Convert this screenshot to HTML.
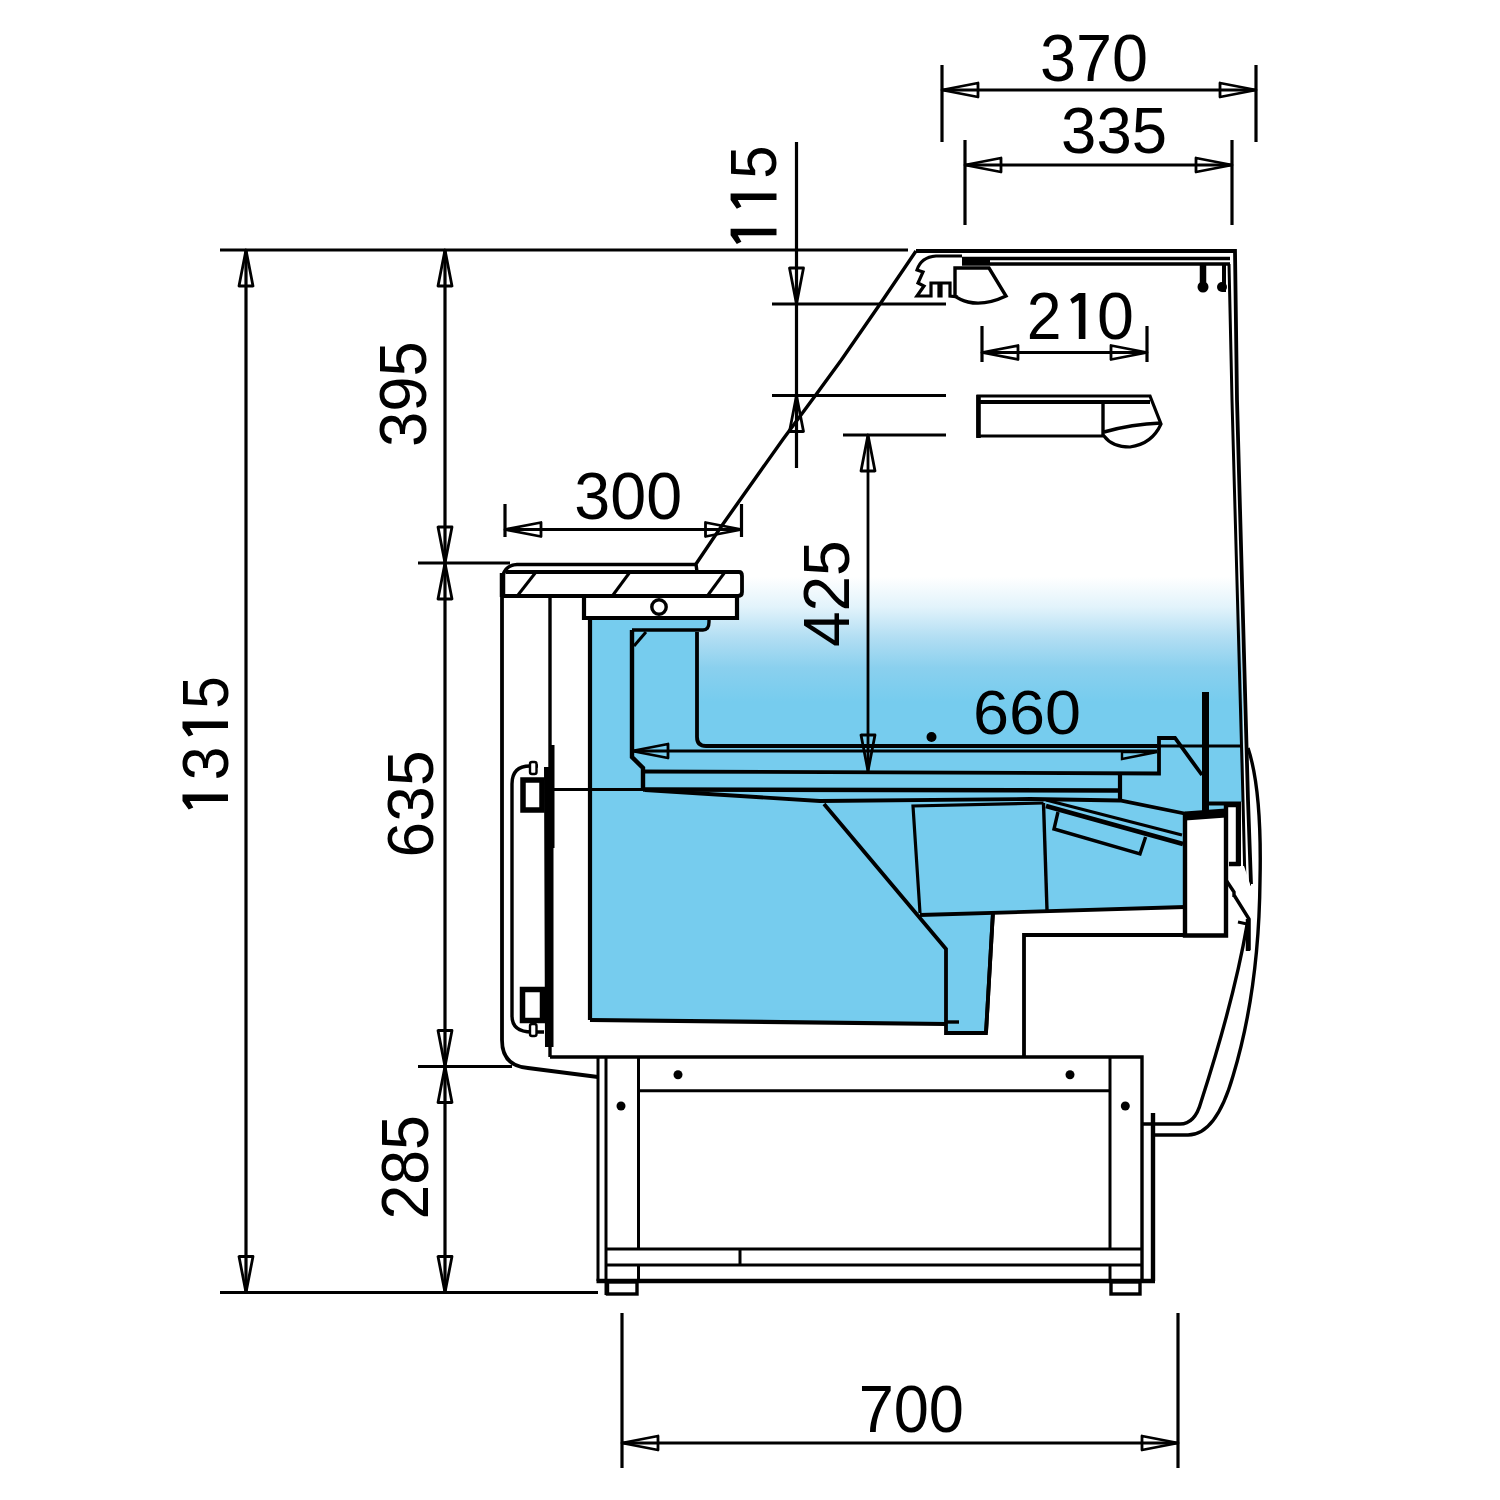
<!DOCTYPE html>
<html><head><meta charset="utf-8"><style>
html,body{margin:0;padding:0;background:#fff;width:1500px;height:1500px;overflow:hidden}
svg{display:block}
.t{font-family:"Liberation Sans",sans-serif;font-size:66px;fill:#000}
</style></head><body>
<svg width="1500" height="1500" viewBox="0 0 1500 1500">
<rect width="1500" height="1500" fill="#fff"/>
<defs><linearGradient id="g" x1="0" y1="512" x2="0" y2="702" gradientUnits="userSpaceOnUse">
<stop offset="0" stop-color="#ffffff"/>
<stop offset="0.34" stop-color="#ffffff"/>
<stop offset="0.50" stop-color="#e2f3fb"/>
<stop offset="0.66" stop-color="#b2def3"/>
<stop offset="0.82" stop-color="#8ad0ee"/>
<stop offset="1" stop-color="#76ccee"/></linearGradient></defs>
<path d="M697,520 L1238,520 L1243,710 L697,710 Z" fill="url(#g)"/>
<path d="M697,709 L1243,709 L1244,802 L697,802 Z" fill="#76ccee"/>
<path d="M590,619 L709,619 L709,630 L697,630 L697,746 L1240,746 L1241,802 L1226,802 L1226,812 L1185,815 L1185,907 L993,912 L986,1033 L946,1033 L946,1024 L590,1020 Z" fill="#76ccee"/>
<line x1="942" y1="65" x2="942" y2="142" stroke="#000" stroke-width="3.2" />
<line x1="1256" y1="65" x2="1256" y2="142" stroke="#000" stroke-width="3.2" />
<line x1="942" y1="90" x2="1256" y2="90" stroke="#000" stroke-width="3.2" />
<path d="M942.0,90.0 L978.0,83.0 L978.0,97.0 Z" fill="none" stroke="#000" stroke-width="2.8" stroke-linejoin="round"/>
<path d="M1256.0,90.0 L1220.0,97.0 L1220.0,83.0 Z" fill="none" stroke="#000" stroke-width="2.8" stroke-linejoin="round"/>
<line x1="965" y1="140" x2="965" y2="225" stroke="#000" stroke-width="3.2" />
<line x1="1232" y1="140" x2="1232" y2="225" stroke="#000" stroke-width="3.2" />
<line x1="965" y1="165" x2="1232" y2="165" stroke="#000" stroke-width="3.2" />
<path d="M965.0,165.0 L1001.0,158.0 L1001.0,172.0 Z" fill="none" stroke="#000" stroke-width="2.8" stroke-linejoin="round"/>
<path d="M1232.0,165.0 L1196.0,172.0 L1196.0,158.0 Z" fill="none" stroke="#000" stroke-width="2.8" stroke-linejoin="round"/>
<line x1="796.5" y1="142" x2="796.5" y2="468" stroke="#000" stroke-width="3.2" />
<line x1="772" y1="304" x2="946" y2="304" stroke="#000" stroke-width="3.2" />
<line x1="772" y1="395.5" x2="946" y2="395.5" stroke="#000" stroke-width="3.2" />
<path d="M796.5,304.0 L789.5,268.0 L803.5,268.0 Z" fill="none" stroke="#000" stroke-width="2.8" stroke-linejoin="round"/>
<path d="M796.5,395.5 L803.5,431.5 L789.5,431.5 Z" fill="none" stroke="#000" stroke-width="2.8" stroke-linejoin="round"/>
<line x1="868" y1="435" x2="868" y2="771" stroke="#000" stroke-width="2.8" />
<line x1="843" y1="435" x2="946" y2="435" stroke="#000" stroke-width="3.2" />
<path d="M868.0,435.0 L875.0,471.0 L861.0,471.0 Z" fill="none" stroke="#000" stroke-width="2.8" stroke-linejoin="round"/>
<path d="M868.0,771.0 L861.0,735.0 L875.0,735.0 Z" fill="none" stroke="#000" stroke-width="2.8" stroke-linejoin="round"/>
<line x1="445" y1="250" x2="445" y2="1292" stroke="#000" stroke-width="3.2" />
<line x1="220" y1="250" x2="908" y2="250" stroke="#000" stroke-width="3.2" />
<line x1="418" y1="563" x2="510" y2="563" stroke="#000" stroke-width="3.2" />
<line x1="418" y1="1066.5" x2="512" y2="1066.5" stroke="#000" stroke-width="3.2" />
<line x1="220" y1="1292.5" x2="598" y2="1292.5" stroke="#000" stroke-width="3.2" />
<path d="M445.0,250.0 L452.0,286.0 L438.0,286.0 Z" fill="none" stroke="#000" stroke-width="2.8" stroke-linejoin="round"/>
<path d="M445.0,563.0 L438.0,527.0 L452.0,527.0 Z" fill="none" stroke="#000" stroke-width="2.8" stroke-linejoin="round"/>
<path d="M445.0,563.0 L452.0,599.0 L438.0,599.0 Z" fill="none" stroke="#000" stroke-width="2.8" stroke-linejoin="round"/>
<path d="M445.0,1066.5 L438.0,1030.5 L452.0,1030.5 Z" fill="none" stroke="#000" stroke-width="2.8" stroke-linejoin="round"/>
<path d="M445.0,1066.5 L452.0,1102.5 L438.0,1102.5 Z" fill="none" stroke="#000" stroke-width="2.8" stroke-linejoin="round"/>
<path d="M445.0,1292.5 L438.0,1256.5 L452.0,1256.5 Z" fill="none" stroke="#000" stroke-width="2.8" stroke-linejoin="round"/>
<line x1="246" y1="250" x2="246" y2="1292" stroke="#000" stroke-width="3.2" />
<path d="M246.0,250.0 L253.0,286.0 L239.0,286.0 Z" fill="none" stroke="#000" stroke-width="2.8" stroke-linejoin="round"/>
<path d="M246.0,1292.5 L239.0,1256.5 L253.0,1256.5 Z" fill="none" stroke="#000" stroke-width="2.8" stroke-linejoin="round"/>
<line x1="505" y1="529.5" x2="741.5" y2="529.5" stroke="#000" stroke-width="3.2" />
<line x1="505" y1="504" x2="505" y2="537" stroke="#000" stroke-width="3.2" />
<line x1="741.5" y1="504" x2="741.5" y2="537" stroke="#000" stroke-width="3.2" />
<path d="M505.0,529.5 L541.0,522.5 L541.0,536.5 Z" fill="none" stroke="#000" stroke-width="2.8" stroke-linejoin="round"/>
<path d="M741.5,529.5 L705.5,536.5 L705.5,522.5 Z" fill="none" stroke="#000" stroke-width="2.8" stroke-linejoin="round"/>
<line x1="982" y1="352.5" x2="1147" y2="352.5" stroke="#000" stroke-width="3.2" />
<line x1="982" y1="326" x2="982" y2="362" stroke="#000" stroke-width="3.2" />
<line x1="1147" y1="326" x2="1147" y2="362" stroke="#000" stroke-width="3.2" />
<path d="M982.0,352.5 L1018.0,345.5 L1018.0,359.5 Z" fill="none" stroke="#000" stroke-width="2.8" stroke-linejoin="round"/>
<path d="M1147.0,352.5 L1111.0,359.5 L1111.0,345.5 Z" fill="none" stroke="#000" stroke-width="2.8" stroke-linejoin="round"/>
<line x1="622" y1="1443" x2="1178" y2="1443" stroke="#000" stroke-width="3.2" />
<line x1="622" y1="1313" x2="622" y2="1468" stroke="#000" stroke-width="3.2" />
<line x1="1178" y1="1313" x2="1178" y2="1468" stroke="#000" stroke-width="3.2" />
<path d="M622.0,1443.0 L658.0,1436.0 L658.0,1450.0 Z" fill="none" stroke="#000" stroke-width="2.8" stroke-linejoin="round"/>
<path d="M1178.0,1443.0 L1142.0,1450.0 L1142.0,1436.0 Z" fill="none" stroke="#000" stroke-width="2.8" stroke-linejoin="round"/>
<line x1="632" y1="751" x2="1157" y2="751" stroke="#000" stroke-width="2.8" />
<path d="M632.0,751.0 L668.0,744.0 L668.0,758.0 Z" fill="none" stroke="#000" stroke-width="2.8" stroke-linejoin="round"/>
<circle cx="931.5" cy="737" r="5" fill="#000"/>
<path d="M916,251 L880.4,303.5 L841.3,360 L815.2,395.7 L783.2,438.9 L723,524 L696,564 L697,572" fill="none" stroke="#000" stroke-width="3.4" stroke-linejoin="miter" />
<path d="M916,251 L1235,251 L1237,400 L1248,800 L1251,884" fill="none" stroke="#000" stroke-width="3.8" stroke-linejoin="miter" />
<line x1="962" y1="258.5" x2="1230" y2="258.5" stroke="#000" stroke-width="3.4" />
<line x1="962" y1="264" x2="1230" y2="264" stroke="#000" stroke-width="3.4" />
<path d="M1229,264 L1232,400 L1243,800 L1245,884" fill="none" stroke="#000" stroke-width="3.0" stroke-linejoin="miter" />
<path d="M1245,884 L1251,884" fill="none" stroke="#000" stroke-width="3" stroke-linejoin="miter" />
<line x1="1203" y1="264" x2="1203" y2="286" stroke="#000" stroke-width="6.5" />
<circle cx="1203" cy="287" r="5.5" fill="#000"/>
<circle cx="1222" cy="287" r="5" fill="#000"/>
<line x1="1224" y1="264" x2="1224" y2="292" stroke="#000" stroke-width="4" />
<path d="M962,256 L936,256 Q921,257 917,270 L923,272 L918,283 L924,286 L917,296 L931,296 L931,283 L939,283 L939,296 L941,296 L941,283 L950,283 L950,296 L958,297" fill="none" stroke="#000" stroke-width="3.2" stroke-linejoin="miter" />
<path d="M955,268 L989,268 L1006,296 Q985,306 968,302 Q960,300 955,296 Z" fill="none" stroke="#000" stroke-width="3.4" stroke-linejoin="miter" />
<path d="M962,262 L990,262" fill="none" stroke="#000" stroke-width="5" stroke-linejoin="miter" />
<path d="M978,396 L1150,396 L1161,424 Q1152,444 1130,447 Q1112,447 1104,436 L978,436 Z" fill="none" stroke="#000" stroke-width="3.2" stroke-linejoin="miter" />
<line x1="978.5" y1="395" x2="978.5" y2="438" stroke="#000" stroke-width="4.6" />
<line x1="978" y1="402" x2="1150" y2="402" stroke="#000" stroke-width="4.2" />
<line x1="1103" y1="402" x2="1103" y2="436" stroke="#000" stroke-width="3.4" />
<path d="M1104,432 Q1132,424 1161,423" fill="none" stroke="#000" stroke-width="3.4" stroke-linejoin="miter" />
<path d="M502,596 L502,578 Q502,572 510,572 L742,572 L742,596 Z" fill="#fff"/>
<rect x="583" y="596" width="154" height="22" fill="#fff"/>
<path d="M695,564.5 L517,564.5 Q506,565 503,575" fill="none" stroke="#000" stroke-width="3.6" stroke-linejoin="miter" />
<path d="M502.5,573 L502.5,597" fill="none" stroke="#000" stroke-width="5.5" stroke-linejoin="miter" />
<path d="M506,572 L739,572 Q742,572 742,576 L742,592 Q742,596 738,596 L502,596" fill="none" stroke="#000" stroke-width="3.8" stroke-linejoin="miter" />
<line x1="518" y1="595" x2="536" y2="572" stroke="#000" stroke-width="3.0" />
<line x1="613" y1="595" x2="630" y2="572" stroke="#000" stroke-width="3.0" />
<line x1="708" y1="595" x2="725" y2="572" stroke="#000" stroke-width="3.0" />
<path d="M584,597 L584,618 L737,618 L737,597" fill="none" stroke="#000" stroke-width="4.2" stroke-linejoin="miter" />
<circle cx="659" cy="607" r="7.2" fill="#fff" stroke="#000" stroke-width="3.4"/>
<path d="M590,619 L590,1020" fill="none" stroke="#000" stroke-width="4.2" stroke-linejoin="miter" />
<path d="M632,630 L703,630 Q709,630 709,622 L709,619" fill="none" stroke="#000" stroke-width="3.4" stroke-linejoin="miter" />
<path d="M632,630 L632,757 L643,768 L643,790" fill="none" stroke="#000" stroke-width="4.4" stroke-linejoin="miter" />
<path d="M697,632 L697,737 Q697,746 706,746 L1157,746" fill="none" stroke="#000" stroke-width="3.8" stroke-linejoin="miter" />
<path d="M634,646 L646,632" fill="none" stroke="#000" stroke-width="3" stroke-linejoin="miter" />
<path d="M502,582 L502,1040 Q502,1066 528,1068 L598,1077" fill="none" stroke="#000" stroke-width="3.8" stroke-linejoin="miter" />
<line x1="550" y1="598" x2="550" y2="1057" stroke="#000" stroke-width="3.4" />
<path d="M549,745 L554.5,745 L554.5,848 L553.5,848 L553.5,1047 L545,1047 L544,767 L549,767 Z" fill="#000"/>
<path d="M538,766 L530,766 Q512,766 512,784 L512,1016 Q512,1032 532,1032 L544,1032" fill="none" stroke="#000" stroke-width="3.4" stroke-linejoin="miter" />
<rect x="523" y="780" width="19" height="30" fill="#fff" stroke="#000" stroke-width="5.5"/>
<rect x="522.5" y="989.5" width="20" height="31" fill="#fff" stroke="#000" stroke-width="5.5"/>
<rect x="530" y="762" width="6.5" height="12" rx="2" fill="#fff" stroke="#000" stroke-width="2.4"/>
<rect x="530" y="1024" width="6.5" height="12" rx="2" fill="#fff" stroke="#000" stroke-width="2.4"/>
<line x1="553" y1="789.5" x2="643" y2="789.5" stroke="#000" stroke-width="3.0" />
<path d="M643,771.5 L1159,773.5 L1159,738 L1175,738 L1202,775" fill="none" stroke="#000" stroke-width="3.8" stroke-linejoin="miter" />
<path d="M643,789.5 L1120,790.5" fill="none" stroke="#000" stroke-width="4.4" stroke-linejoin="miter" />
<line x1="1120" y1="773" x2="1120" y2="801" stroke="#000" stroke-width="4.2" />
<path d="M645,790 L820,801 L1030,799 L1120,800.5 L1187,814" fill="none" stroke="#000" stroke-width="3.8" stroke-linejoin="miter" />
<path d="M1046,800 L1182,835" fill="none" stroke="#000" stroke-width="3.2" stroke-linejoin="miter" />
<path d="M1046,806 L1183,844" fill="none" stroke="#000" stroke-width="4.8" stroke-linejoin="miter" />
<path d="M1058,812 L1054,829 L1140,854 L1145.6,837" fill="none" stroke="#000" stroke-width="3.4" stroke-linejoin="miter" />
<line x1="1157" y1="746" x2="1241" y2="746" stroke="#000" stroke-width="3.0" />
<path d="M1122,752 L1157,752 L1122,759 Z" fill="none" stroke="#000" stroke-width="2.4" stroke-linejoin="miter" />
<line x1="1205.5" y1="692" x2="1205.5" y2="812" stroke="#000" stroke-width="7" />
<path d="M824,804 L946,949 L946,1033 L986,1033 L993,912" fill="none" stroke="#000" stroke-width="3.8" stroke-linejoin="miter" />
<path d="M920,913 L913,806 L1043.5,803" fill="none" stroke="#000" stroke-width="3.2" stroke-linejoin="miter" />
<path d="M1043.5,803 L1047,910" fill="none" stroke="#000" stroke-width="3.4" stroke-linejoin="miter" />
<path d="M920,915 L1185,907" fill="none" stroke="#000" stroke-width="3.8" stroke-linejoin="miter" />
<path d="M590,1020 L946,1024" fill="none" stroke="#000" stroke-width="4.2" stroke-linejoin="miter" />
<line x1="946" y1="1022" x2="959" y2="1022" stroke="#000" stroke-width="3.4" />
<path d="M1185,815 L1225,812 L1225,935 L1185,935 Z" fill="#fff"/>
<path d="M1229,805 L1240,805 L1240,866 L1229,866 Z" fill="#fff"/>
<path d="M1226,866 L1244,866 L1250,884 L1250,935 L1226,935 Z" fill="#fff"/>
<path d="M1185,812 L1185,935.5 L1226,935.5 L1226,805 L1238,805 L1238,864 L1229,864" fill="none" stroke="#000" stroke-width="4.4" stroke-linejoin="miter" />
<line x1="1239" y1="805" x2="1239" y2="866" stroke="#000" stroke-width="4" />
<path d="M1185,816 L1226,813" fill="none" stroke="#000" stroke-width="9" stroke-linejoin="miter" />
<path d="M1208,803.5 L1241,803.5" fill="none" stroke="#000" stroke-width="4" stroke-linejoin="miter" />
<path d="M1226,880 L1234,892 L1234,897 M1234,895 L1249,919 L1249,950" fill="none" stroke="#000" stroke-width="3.4" stroke-linejoin="miter" />
<path d="M1248,748 Q1262,790 1260,880 Q1259,990 1233,1076 Q1216,1135 1188,1135 L1152,1135" fill="none" stroke="#000" stroke-width="3.4" stroke-linejoin="miter" />
<path d="M1247,925 Q1234,1000 1201,1102 Q1195,1124 1180,1124 L1143,1124" fill="none" stroke="#000" stroke-width="3.4" stroke-linejoin="miter" />
<line x1="1238" y1="922" x2="1247" y2="924" stroke="#000" stroke-width="3" />
<line x1="1248" y1="919" x2="1248" y2="951" stroke="#000" stroke-width="4.5" />
<path d="M1024,1057 L1024,935 L1185,935" fill="none" stroke="#000" stroke-width="3.8" stroke-linejoin="miter" />
<line x1="993" y1="912" x2="986" y2="1033" stroke="#000" stroke-width="3.8" />
<path d="M550,1057 L1142,1057 L1142,1281" fill="none" stroke="#000" stroke-width="3.4" stroke-linejoin="miter" />
<line x1="598" y1="1057" x2="598" y2="1281" stroke="#000" stroke-width="3.0" />
<line x1="606" y1="1057" x2="606" y2="1295" stroke="#000" stroke-width="3.0" />
<line x1="638.5" y1="1057" x2="638.5" y2="1249" stroke="#000" stroke-width="3.0" />
<line x1="638.5" y1="1265" x2="638.5" y2="1281" stroke="#000" stroke-width="3.0" />
<line x1="638.5" y1="1090.7" x2="1110" y2="1090.7" stroke="#000" stroke-width="3.0" />
<line x1="1110" y1="1057" x2="1110" y2="1249" stroke="#000" stroke-width="3.0" />
<line x1="1110" y1="1265" x2="1110" y2="1281" stroke="#000" stroke-width="3.0" />
<line x1="606" y1="1249" x2="1142" y2="1249" stroke="#000" stroke-width="3.2" />
<line x1="606" y1="1265" x2="1142" y2="1265" stroke="#000" stroke-width="3.2" />
<line x1="596.5" y1="1281" x2="1155" y2="1281" stroke="#000" stroke-width="4.4" />
<line x1="740" y1="1249" x2="740" y2="1265" stroke="#000" stroke-width="3.0" />
<rect x="607.5" y="1282" width="29.5" height="12" fill="#fff" stroke="#000" stroke-width="3.4"/>
<rect x="1111" y="1282" width="29" height="12" fill="#fff" stroke="#000" stroke-width="3.4"/>
<line x1="1153" y1="1113" x2="1153" y2="1281" stroke="#000" stroke-width="4.4" />
<circle cx="678" cy="1074.7" r="4.5" fill="#000"/>
<circle cx="1070" cy="1074.7" r="4.5" fill="#000"/>
<circle cx="621" cy="1106" r="4.5" fill="#000"/>
<circle cx="1125.3" cy="1106" r="4.5" fill="#000"/>
<text transform="translate(1040.06,80.70) scale(0.9810,1.0000)" class="t">370</text>
<text transform="translate(1061.12,153.30) scale(0.9615,0.9848)" class="t">335</text>
<text transform="translate(1026.76,339.00) scale(0.9467,1.0000)" class="t">2</text>
<path d="M1078.8,293.0 L1085.4,293.0 L1085.4,339.0 L1078.8,339.0 L1078.8,300.2 L1072.4,303.8 L1070.2,299.2 Z" fill="#000"/>
<text transform="translate(1096.98,339.40) scale(1.0065,1.0087)" class="t">0</text>
<text transform="translate(574.37,518.70) scale(0.9781,1.0000)" class="t">300</text>
<text transform="translate(973.06,734.40) scale(0.9810,0.9652)" class="t">660</text>
<text transform="translate(858.63,1432.00) scale(0.9571,1.0000)" class="t">700</text>
<text transform="translate(776.00,178.71) scale(0.9870,0.9032) rotate(-90)" class="t">5</text>
<path d="M730.6,200.1 L730.6,193.5 L776.5,193.5 L776.5,200.1 L737.8,200.1 L741.4,206.5 L736.8,208.7 Z" fill="#000"/>
<path d="M730.6,235.3 L730.6,228.7 L776.5,228.7 L776.5,235.3 L737.8,235.3 L741.4,241.7 L736.8,243.9 Z" fill="#000"/>
<text transform="translate(426.30,447.08) scale(1.0065,0.9606) rotate(-90)" class="t">395</text>
<text transform="translate(228.00,708.66) scale(0.9891,0.8871) rotate(-90)" class="t">5</text>
<path d="M182.5,728.0 L182.5,721.4 L228.0,721.4 L228.0,728.0 L189.7,728.0 L193.3,734.4 L188.7,736.6 Z" fill="#000"/>
<text transform="translate(228.00,780.26) scale(0.9891,0.9194) rotate(-90)" class="t">3</text>
<path d="M182.5,801.0 L182.5,794.4 L228.0,794.4 L228.0,801.0 L189.7,801.0 L193.3,807.4 L188.7,809.6 Z" fill="#000"/>
<text transform="translate(433.00,857.41) scale(0.9783,0.9712) rotate(-90)" class="t">635</text>
<text transform="translate(427.90,1219.54) scale(0.9978,0.9471) rotate(-90)" class="t">285</text>
<text transform="translate(849.30,647.04) scale(0.9848,0.9695) rotate(-90)" class="t">425</text>
</svg></body></html>
